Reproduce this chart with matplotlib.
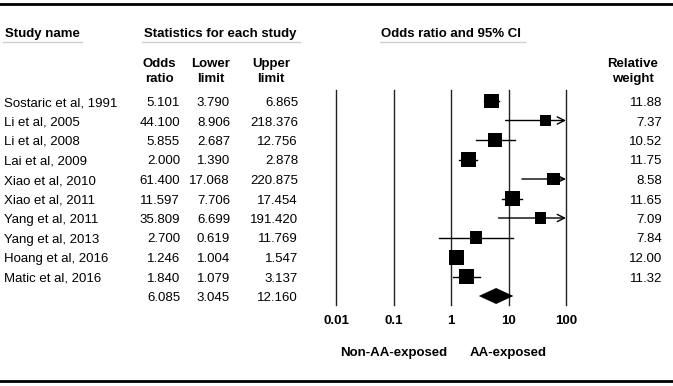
import matplotlib.pyplot as plt
import numpy as np

plt.rcParams['font.family'] = ['Liberation Sans', 'DejaVu Sans']

studies = ['Sostaric et al, 1991', 'Li et al, 2005', 'Li et al, 2008', 'Lai et al, 2009',
           'Xiao et al, 2010', 'Xiao et al, 2011', 'Yang et al, 2011', 'Yang et al, 2013',
           'Hoang et al, 2016', 'Matic et al, 2016']
odds = [5.101, 44.100, 5.855, 2.000, 61.400, 11.597, 35.809, 2.700, 1.246, 1.840]
lower = [3.790, 8.906, 2.687, 1.390, 17.068, 7.706, 6.699, 0.619, 1.004, 1.079]
upper = [6.865, 218.376, 12.756, 2.878, 220.875, 17.454, 191.420, 11.769, 1.547, 3.137]
weights = [11.88, 7.37, 10.52, 11.75, 8.58, 11.65, 7.09, 7.84, 12.00, 11.32]
pooled_or, pooled_lo, pooled_hi = 6.085, 3.045, 12.160
ticks = [0.01, 0.1, 1, 10, 100]
tick_labels = ['0.01', '0.1', '1', '10', '100']

W, H = 673, 386
fs = 9.5
fig = plt.figure(figsize=(W/100, H/100), dpi=100)

# background axes in pixel coordinates for the table text
ax0 = fig.add_axes([0, 0, 1, 1])
ax0.set_xlim(0, W)
ax0.set_ylim(H, 0)
ax0.axis('off')

ax0.plot([0, W], [4, 4], color='k', lw=2)
ax0.plot([0, W], [381, 381], color='k', lw=2)

# headers
ax0.text(5, 37, 'Study name', fontsize=fs, fontweight='bold', va='baseline')
ax0.text(220, 37, 'Statistics for each study', fontsize=fs, fontweight='bold', va='baseline', ha='center')
ax0.text(451, 37, 'Odds ratio and 95% CI', fontsize=fs, fontweight='bold', va='baseline', ha='center')
for x1, x2 in [(3, 82), (142, 300), (380, 525)]:
    ax0.plot([x1, x2], [42, 42], color='#d0d0d0', lw=1)

for xc, l1, l2 in [(159, 'Odds', 'ratio'), (211, 'Lower', 'limit'), (271, 'Upper', 'limit'),
                   (633, 'Relative', 'weight')]:
    ax0.text(xc, 67, l1, fontsize=fs, fontweight='bold', ha='center', va='baseline')
    ax0.text(xc, 82, l2, fontsize=fs, fontweight='bold', ha='center', va='baseline')

row0, dy = 101, 19.5
for i, name in enumerate(studies):
    yb = row0 + dy*i + 5
    ax0.text(4, yb, name, fontsize=fs, va='baseline')
    ax0.text(180, yb, f'{odds[i]:.3f}', fontsize=fs, va='baseline', ha='right')
    ax0.text(230, yb, f'{lower[i]:.3f}', fontsize=fs, va='baseline', ha='right')
    ax0.text(298, yb, f'{upper[i]:.3f}', fontsize=fs, va='baseline', ha='right')
    ax0.text(662, yb, f'{weights[i]:.2f}', fontsize=fs, va='baseline', ha='right')
yb = row0 + dy*len(studies) + 5
ax0.text(180, yb, f'{pooled_or:.3f}', fontsize=fs, va='baseline', ha='right')
ax0.text(230, yb, f'{pooled_lo:.3f}', fontsize=fs, va='baseline', ha='right')
ax0.text(298, yb, f'{pooled_hi:.3f}', fontsize=fs, va='baseline', ha='right')

ax0.text(394, 356, 'Non-AA-exposed', fontsize=fs, fontweight='bold', ha='center', va='baseline')
ax0.text(508, 356, 'AA-exposed', fontsize=fs, fontweight='bold', ha='center', va='baseline')

# forest plot axes
top_px, bot_px = 90, 305
ax = fig.add_axes([336/W, 1 - bot_px/H, 230/W, (bot_px - top_px)/H])
ax.set_xscale('log')
ax.set_xlim(0.01, 100)
ax.set_ylim((bot_px - row0)/dy, (top_px - row0)/dy)
for s in ax.spines.values():
    s.set_visible(False)
ax.set_yticks([])
ax.set_xticks(ticks)
ax.set_xticklabels(tick_labels, fontsize=fs, fontweight='bold')
ax.minorticks_off()
ax.tick_params(axis='x', length=0, pad=7)
ax.patch.set_alpha(0)
for t in ticks:
    ax.axvline(t, color='#222222', lw=1, clip_on=False)

y = np.arange(len(studies))
for i in range(len(studies)):
    hi = min(upper[i], 100)
    if upper[i] > 100:
        ax.annotate('', xy=(hi, y[i]), xytext=(lower[i], y[i]),
                    arrowprops=dict(arrowstyle='->', lw=1, color='k', shrinkA=0, shrinkB=0,
                                    mutation_scale=13), annotation_clip=False)
    else:
        ax.plot([lower[i], hi], [y[i], y[i]], color='k', lw=1)

side_px = 15*np.sqrt(np.array(weights)/12.0)
ax.scatter(odds, y, marker='s', s=(side_px*72/100)**2, color='k', lw=0, zorder=3)

yp = len(studies)
dh = 8/dy
ax.fill([pooled_lo, pooled_or, pooled_hi, pooled_or], [yp, yp - dh, yp, yp + dh],
        color='k', lw=0, zorder=3)

fig.savefig('out.png', dpi=100)
